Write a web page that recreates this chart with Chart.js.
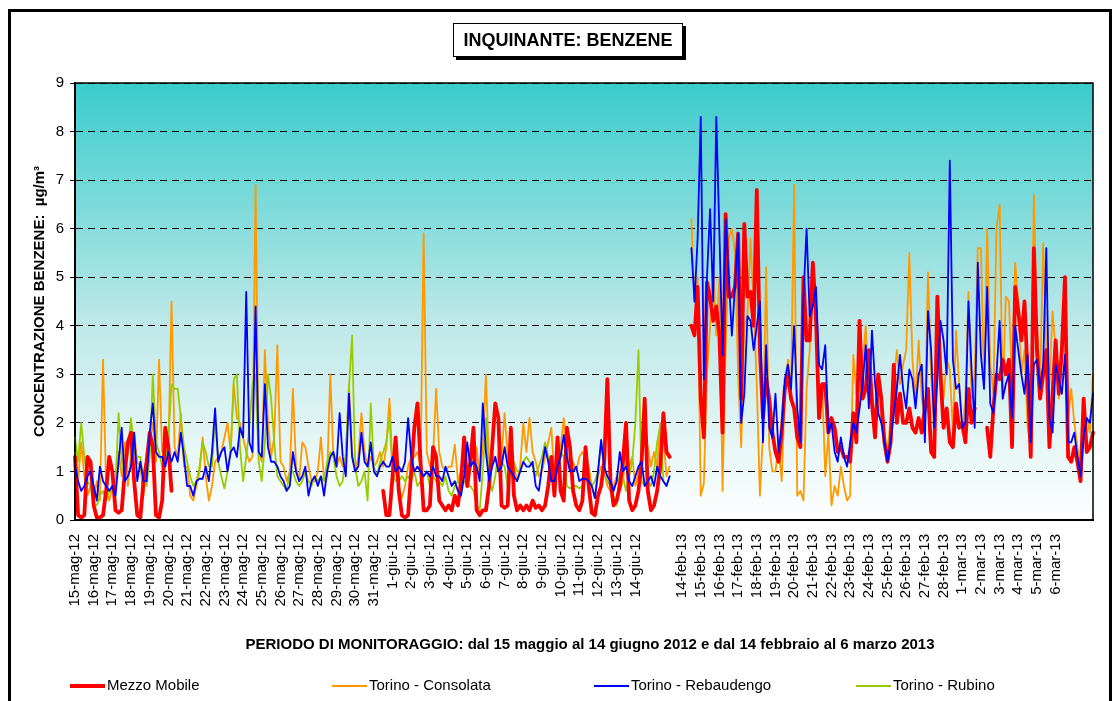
<!DOCTYPE html>
<html>
<head>
<meta charset="utf-8" />
<title>Inquinante: benzene</title>
<script src="https://cdn.jsdelivr.net/npm/chart.js"></script>
<style>
    body { margin: 0; background: #fff; }
    canvas { display: block; }
</style>
</head>
<body>
<canvas id="grafico" width="1114" height="701"></canvas>

<script>
    // etichette dell'asse x (una per giorno)
    const giorni2012 = [
        '15-mag-12', '16-mag-12', '17-mag-12', '18-mag-12', '19-mag-12', '20-mag-12', '21-mag-12',
        '22-mag-12', '23-mag-12', '24-mag-12', '25-mag-12', '26-mag-12', '27-mag-12', '28-mag-12',
        '29-mag-12', '30-mag-12', '31-mag-12', '1-giu-12', '2-giu-12', '3-giu-12', '4-giu-12',
        '5-giu-12', '6-giu-12', '7-giu-12', '8-giu-12', '9-giu-12', '10-giu-12', '11-giu-12',
        '12-giu-12', '13-giu-12', '14-giu-12'
    ];
    const giorni2013 = [
        '14-feb-13', '15-feb-13', '16-feb-13', '17-feb-13', '18-feb-13', '19-feb-13', '20-feb-13',
        '21-feb-13', '22-feb-13', '23-feb-13', '24-feb-13', '25-feb-13', '26-feb-13', '27-feb-13',
        '28-feb-13', '1-mar-13', '2-mar-13', '3-mar-13', '4-mar-13', '5-mar-13', '6-mar-13'
    ];

    // 6 letture al giorno (ogni 4 ore), µg/m³ - maggio/giugno 2012
    const mezzoMobile2012 = [
        1.3, 0.1, 0.05, 0.1, 1.3, 1.2,
        0.3, 0.05, 0.05, 0.1, 0.6, 1.3,
        1.0, 0.2, 0.15, 0.2, 1.0, 1.6,
        1.8, 0.8, 0.1, 0.05, 0.8, 1.2,
        1.8, 1.5, 0.1, 0.05, 0.4, 1.9,
        1.5, 0.6, null, null, null, null,
        null, null, null, null, null, null,
        null, null, null, null, null, null,
        null, null, null, null, null, null,
        null, null, null, null, null, null,
        null, null, null, null, null, null,
        null, null, null, null, null, null,
        null, null, null, null, null, null,
        null, null, null, null, null, null,
        null, null, null, null, null, null,
        null, null, null, null, null, null,
        null, null, null, 0.6, 0.1, 0.1,
        0.9, 1.7, 0.6, 0.1, 0.05, 0.1,
        1.0, 1.9, 2.4, 1.2, 0.2, 0.2,
        0.3, 1.5, 1.3, 0.4, 0.3, 0.2,
        0.3, 0.2, 0.5, 0.3, 0.8, 1.7,
        0.7, 1.2, 1.9, 0.2, 0.1, 0.2,
        0.2, 0.7, 1.5, 2.4, 2.1, 0.3,
        0.25, 0.3, 1.9, 0.5, 0.2, 0.3,
        0.2, 0.3, 0.2, 0.4, 0.25, 0.3,
        0.2, 0.3, 0.7, 1.3, 0.5, 1.7,
        0.6, 0.4, 1.9, 1.5, 0.6, 0.3,
        0.2, 0.4, 1.5, 0.7, 0.15, 0.1,
        0.5, 0.7, 1.2, 2.9, 0.8, 0.3,
        0.4, 0.7, 1.2, 2.0, 0.4, 0.2,
        0.3, 0.6, 1.2, 2.5, 0.6, 0.2,
        0.3, 0.6, 1.1, 2.2, 1.4, 1.3
    ];
    const consolata2012 = [
        1.4, 0.8, 1.6, 0.9, 0.5, 0.7,
        0.4, 0.8, 0.4, 3.3, 0.7, 0.4,
        0.7, 0.8, 1.4, 0.9, 1.6, 0.7,
        1.4, 1.8, 1.2, 1.1, 0.5, 1.1,
        1.6, 2.0, 1.2, 3.3, 1.4, 1.8,
        1.4, 4.5, 1.5, 1.3, 2.2, 1.1,
        1.1, 0.5, 0.4, 0.7, 1.0, 1.7,
        0.9, 0.4, 0.7, 1.2, 1.3, 1.4,
        1.7, 2.0, 1.4, 2.8, 2.1, 2.0,
        1.7, 1.4, 1.2, 1.3, 6.9, 1.4,
        1.2, 3.5, 2.0, 1.3, 1.7, 3.6,
        1.2, 1.1, 0.8, 1.0, 2.7, 1.1,
        0.8, 1.6, 1.5, 1.1, 0.8, 0.8,
        1.0, 1.7, 0.8, 0.9, 3.0, 1.3,
        1.1, 1.3, 1.1, 1.3, 2.8, 1.4,
        1.0, 1.3, 2.2, 1.4, 1.1, 1.3,
        1.1, 1.2, 1.4, 1.1, 1.5, 2.5,
        1.1, 1.0, 0.7, 0.45, 0.7, 1.1,
        1.3, 1.3, 1.4, 1.1, 5.9, 1.4,
        1.1, 1.3, 2.7, 1.4, 1.1, 1.0,
        1.1, 1.1, 1.55, 0.8, 1.0, 1.3,
        1.1, 1.1, 1.5, 1.5, 0.9, 1.5,
        3.0, 1.1, 1.4, 1.2, 1.2, 1.3,
        2.2, 1.3, 1.0, 1.1, 0.8, 1.1,
        2.0, 1.4, 2.1, 1.4, 1.2, 0.9,
        1.0, 1.3, 1.6, 1.9, 0.9, 1.2,
        1.5, 2.1, 1.4, 1.1, 1.2, 1.0,
        1.3, 1.4, 1.3, 1.1, 0.7, 0.45,
        0.9, 1.1, 1.0, 0.7, 0.6, 0.7,
        0.9, 0.6, 0.8, 1.4, 1.1, 1.3,
        0.7, 1.0, 1.3, 1.9, 1.5, 1.1,
        1.4, 1.1, 2.0, 1.7, 0.9, 1.1
    ];
    const rebaudengo2012 = [
        1.1, 0.8, 0.6, 0.7, 0.9, 1.0,
        0.7, 0.4, 1.1, 0.8, 0.7, 0.6,
        0.7, 0.5, 1.2, 1.9, 0.8, 0.9,
        1.1, 1.8, 0.8, 1.2, 0.8, 0.8,
        1.8, 2.4, 1.4, 1.3, 1.3, 1.1,
        1.4, 1.2, 1.4, 1.2, 1.8, 1.3,
        0.7, 0.7, 0.5, 0.8, 0.85, 0.85,
        1.1, 0.8, 1.4, 2.3, 1.2, 1.4,
        1.5, 1.0, 1.4, 1.5, 1.3, 1.9,
        1.7, 4.7, 1.6, 1.4, 4.4, 1.4,
        1.3, 2.8, 1.5, 1.2, 1.2, 1.1,
        0.9, 0.8, 0.6, 0.7, 1.4, 1.0,
        0.8, 0.9, 1.1, 0.5, 0.8, 0.9,
        0.7, 0.9, 0.5, 1.0, 1.3, 1.4,
        1.1, 2.2, 1.3, 0.9, 2.6, 1.3,
        1.0, 1.1, 1.8, 1.2, 1.1, 1.6,
        1.0, 0.9, 1.1, 1.2, 1.1, 1.1,
        1.3, 1.0, 1.1, 1.0, 1.2, 2.1,
        1.3, 1.0, 1.1, 1.0, 0.9, 1.0,
        0.9, 1.1, 0.9, 0.9, 0.8, 1.1,
        0.9, 0.7, 0.8, 0.6, 0.5, 0.9,
        1.6, 1.1, 1.2, 1.1, 0.8, 2.4,
        1.4, 0.8, 1.1, 1.3, 1.0, 1.1,
        1.5, 1.1, 1.0, 0.9, 0.8, 1.0,
        1.2, 1.1, 1.1, 1.2, 0.7, 0.6,
        1.1, 1.5, 1.2, 0.8, 0.8, 1.1,
        1.3, 1.75, 1.3, 1.0, 1.0, 1.1,
        0.8, 0.85, 0.85, 0.8, 0.7, 0.45,
        1.0, 1.65, 1.1, 0.9, 0.8, 0.6,
        0.8, 1.4, 1.0, 1.1, 0.8, 0.7,
        0.9, 1.1, 1.2, 0.7, 0.8, 0.9,
        0.7, 1.1, 0.9, 0.8, 0.7, 0.9
    ];
    const rubino2012 = [
        1.7, 1.2, 2.0, 1.3, 0.8, 0.7,
        0.3, 0.3, 0.5, 0.6, 0.4, 0.6,
        0.6, 0.7, 2.2, 1.2, 0.9, 1.4,
        2.1, 1.4, 1.3, 1.3, 0.8, 0.7,
        1.3, 3.0, 1.6, 1.4, 1.1, 1.2,
        1.7, 2.8, 2.7, 2.7, 2.1, 1.5,
        1.2, 0.9, 0.7, 0.8, 1.1, 1.6,
        1.4, 1.1, 1.1, 2.07, 1.2, 0.9,
        0.65, 1.0, 1.4, 2.9, 3.0, 1.5,
        0.8, 1.3, 1.9, 2.8, 3.0, 1.2,
        0.8, 1.6, 3.0, 2.5, 1.6, 0.9,
        0.8, 0.7, 0.6, 1.0, 1.0, 0.8,
        0.7, 0.8, 1.0, 0.8, 0.7, 0.9,
        0.8, 0.9, 0.8, 1.2, 1.4, 1.3,
        0.9, 0.7, 0.8, 1.4, 2.7, 3.8,
        1.1, 0.7, 0.8, 1.0, 0.4, 2.4,
        1.1, 0.9, 1.2, 1.4, 1.6, 2.1,
        1.0, 0.8, 0.8, 0.9, 0.8, 0.9,
        0.8, 1.0, 0.7, 0.8, 0.9, 1.0,
        0.7, 0.9, 0.8, 0.8, 0.7, 0.9,
        0.6, 0.5, 0.7, 0.8, 0.7, 0.8,
        0.7, 0.7, 0.6, 0.3, 0.2, 1.0,
        2.1, 0.8, 0.6, 0.9, 1.4, 1.2,
        1.1, 0.7, 1.0, 1.2, 1.0, 1.0,
        1.2, 1.3, 1.2, 1.1, 0.9, 1.1,
        1.3, 1.6, 1.3, 0.9, 0.9, 1.2,
        1.4, 1.3, 0.7, 0.65, 0.7, 0.7,
        0.65, 0.7, 0.85, 0.8, 0.7, 0.8,
        1.0, 1.55, 1.1, 0.8, 0.7, 0.5,
        0.3, 1.0, 0.9, 0.6, 0.9, 1.2,
        2.0, 3.5, 0.8, 0.7, 0.8, 0.7,
        1.0, 1.6, 1.95, 0.8, 0.7, 0.9
    ];

    // febbraio/marzo 2013 (Torino - Rubino senza dati)
    const mezzoMobile2013 = [
        4.0, 3.8, 4.8, 2.5, 1.7, 4.9,
        4.6, 4.1, 4.4, 3.8, 1.8, 6.3,
        4.6, 4.6, 4.8, 5.9, 2.5, 6.1,
        4.6, 4.7, 4.0, 6.8, 3.5, 2.1,
        2.9, 2.5, 1.8, 1.4, 1.2, 1.8,
        2.7, 3.0, 2.5, 2.3, 1.7, 1.5,
        5.0, 3.7, 3.7, 5.3, 4.2, 2.1,
        2.8, 2.8, 1.8, 2.1, 1.9, 1.4,
        1.5, 1.3, 1.3, 1.2, 2.2, 1.6,
        4.1, 2.5, 2.7, 3.5, 2.4, 1.7,
        3.0, 2.5, 1.6, 1.2, 1.6, 3.2,
        2.0, 2.6, 2.0, 2.0, 2.3, 1.9,
        1.8, 2.1, 1.8, 2.3, 2.7, 1.4,
        1.3, 4.6, 3.0, 1.9, 2.3, 1.6,
        1.5, 2.4, 1.9, 2.0, 1.6, 2.7,
        2.0, 2.3, null, null, null, 1.9,
        1.3, 2.3, 3.0, 2.9, 3.3, 3.0,
        3.3, 1.5, 4.8, 4.3, 3.7, 4.5,
        3.0, 1.3, 5.6, 3.5, 2.5, 3.0,
        3.5, 1.5, 2.6, 3.7, 2.6, 3.5,
        5.0, 1.3, 1.2, 1.5, 1.2, 0.8,
        2.5, 1.4, 1.5, 1.8
    ];
    const consolata2013 = [
        6.2, 4.5, 5.0, 0.5, 0.75, 3.0,
        4.0, 5.3, 3.8, 5.0, 0.6, 3.5,
        5.8, 6.0, 5.5, 3.0, 1.5, 4.0,
        4.2, 5.8, 4.4, 2.8, 0.5, 1.8,
        5.2, 1.5, 1.0, 1.0, 1.5, 0.8,
        2.6, 3.3, 2.7, 6.9, 0.5, 0.6,
        0.4, 2.7, 3.5, 5.0, 4.0, 2.5,
        2.8, 0.9, 1.8, 0.3, 0.7, 0.5,
        1.1, 0.7, 0.4, 0.5, 3.4, 2.6,
        2.3, 3.2, 4.0, 2.5, 2.8, 1.7,
        2.5, 2.1, 1.8, 1.4, 2.1, 2.8,
        3.5, 2.8, 3.2, 3.5, 5.5, 3.3,
        2.5, 3.7, 2.5, 2.1, 5.1, 3.0,
        1.8, 3.2, 3.2, 2.5, 3.3, 3.1,
        1.8, 3.9, 2.8, 1.8, 2.5, 4.7,
        2.5, 3.0, 5.6, 5.6, 2.8, 6.0,
        3.2, 2.6, 6.0, 6.5, 2.5, 4.6,
        4.5, 2.8, 5.3, 4.5, 3.0, 3.5,
        1.9, 1.5, 6.7, 4.0, 2.8, 5.7,
        3.5, 2.8, 4.3, 3.5, 2.5, 3.6,
        4.0, 2.1, 2.7, 2.0, 1.5, 1.1,
        1.8, 2.1, 1.8, 3.0
    ];
    const rebaudengo2013 = [
        5.6, 4.5, 5.8, 8.3, 2.9, 5.0,
        6.4, 4.5, 8.3, 5.9, 3.4, 6.2,
        5.0, 3.8, 4.8, 5.9, 2.0, 2.6,
        4.2, 4.1, 3.5, 4.0, 4.5, 1.6,
        3.6, 1.9, 1.7, 2.6, 1.4, 1.9,
        2.9, 3.2, 2.7, 4.0, 2.3, 1.6,
        4.6, 6.0, 4.2, 4.4, 4.8, 3.2,
        3.1, 3.6, 1.8, 2.0, 1.4, 1.2,
        1.7, 1.3, 1.1, 1.6, 2.0, 1.8,
        2.3, 2.8, 3.6, 2.3, 3.9, 2.8,
        2.2, 2.0, 1.6, 1.2, 1.6, 2.2,
        2.7, 3.4, 2.7, 2.3, 3.1, 2.9,
        2.3, 3.0, 3.2, 1.6, 4.3, 3.5,
        1.9, 2.9, 4.1, 3.7, 3.0, 7.4,
        3.3, 2.7, 2.8, 1.9, 2.0, 4.5,
        3.1, 1.9, 5.3, 3.4, 2.7, 4.8,
        2.4, 2.2, 3.0, 4.1, 2.5, 2.8,
        3.0, 2.1, 4.0, 3.5, 3.0, 2.6,
        3.4, 1.6, 3.2, 3.3, 2.7, 3.2,
        5.6, 2.1, 1.8, 3.2, 2.9, 2.6,
        3.4, 1.6, 1.6, 1.8, 1.3, 0.9,
        1.7, 2.1, 2.0, 2.6
    ];
    const rubino2013 = [];

    const LETTURE_GIORNO = 6;
    const PAUSA = 6;                 // letture vuote tra i due periodi
    const PERIODO2 = mezzoMobile2013.length;
    const INIZIO_ETICHETTE_2013 = mezzoMobile2012.length + PAUSA - 3;

    function serie(p1, p2) {
        const vuoto = n => new Array(n).fill(null);
        return [...p1, ...vuoto(PAUSA), ...(p2.length ? p2 : vuoto(PERIODO2))];
    }

    const totale = mezzoMobile2012.length + PAUSA + PERIODO2;
    const etichette = new Array(totale).fill('');
    giorni2012.forEach((g, i) => etichette[i * LETTURE_GIORNO] = g);
    giorni2013.forEach((g, i) => etichette[INIZIO_ETICHETTE_2013 + i * LETTURE_GIORNO] = g);

    const FONT = '"Liberation Sans", Arial, sans-serif';

    const cornice = {
        id: 'cornice',
        beforeDraw(chart) {
            const ctx = chart.ctx;
            const a = chart.chartArea;
            ctx.save();
            ctx.fillStyle = '#fff';
            ctx.fillRect(0, 0, chart.width, chart.height);
            const g = ctx.createLinearGradient(0, a.top, 0, a.bottom);
            g.addColorStop(0, 'rgb(58,204,204)');
            g.addColorStop(0.55, 'rgb(190,232,232)');
            g.addColorStop(1, '#ffffff');
            ctx.fillStyle = g;
            ctx.fillRect(a.left, a.top, a.right - a.left, a.bottom - a.top);
            ctx.restore();
        },
        afterDraw(chart) {
            const ctx = chart.ctx;
            const a = chart.chartArea;
            ctx.save();

            // bordo area grafico
            ctx.strokeStyle = '#000';
            ctx.lineWidth = 1.5;
            ctx.strokeRect(a.left, a.top, a.right - a.left, a.bottom - a.top);

            // cornice esterna
            ctx.lineWidth = 3;
            ctx.strokeRect(9.5, 10.5, 1101, 730);

            // titolo con ombra
            ctx.fillStyle = '#000';
            ctx.fillRect(456, 26, 230, 34);
            ctx.fillStyle = '#fff';
            ctx.fillRect(453, 23, 230, 34);
            ctx.lineWidth = 1;
            ctx.strokeRect(453.5, 23.5, 229, 33);
            ctx.fillStyle = '#000';
            ctx.font = 'bold 18px ' + FONT;
            ctx.textAlign = 'center';
            ctx.textBaseline = 'middle';
            ctx.fillText('INQUINANTE: BENZENE', 568, 41);

            // titolo asse y
            ctx.save();
            ctx.translate(40, (a.top + a.bottom) / 2);
            ctx.rotate(-Math.PI / 2);
            ctx.font = 'bold 15px ' + FONT;
            ctx.fillText('CONCENTRAZIONE BENZENE:  µg/m³', 0, 0);
            ctx.restore();

            // titolo asse x
            ctx.font = 'bold 15px ' + FONT;
            ctx.fillText('PERIODO DI MONITORAGGIO: dal 15 maggio al 14 giugno 2012 e dal 14 febbraio al 6 marzo 2013', 590, 645);

            // legenda
            ctx.font = '15px ' + FONT;
            ctx.textAlign = 'left';
            chart.data.datasets.forEach((ds, i) => {
                const x = 70 + i * 262;
                const y = 686;
                ctx.strokeStyle = ds.borderColor;
                ctx.lineWidth = i === 0 ? 4 : 2;
                ctx.beginPath();
                ctx.moveTo(x, y);
                ctx.lineTo(x + 35, y);
                ctx.stroke();
                ctx.fillStyle = '#000';
                ctx.fillText(ds.label, x + 37, y);
            });

            ctx.restore();
        }
    };

    const linea = {
        pointRadius: 0,
        tension: 0,
        spanGaps: false,
        borderJoinStyle: 'round',
        borderCapStyle: 'round'
    };

    new Chart(document.getElementById('grafico'), {
        type: 'line',
        data: {
            labels: etichette,
            datasets: [{
                ...linea,
                label: 'Mezzo Mobile',
                data: serie(mezzoMobile2012, mezzoMobile2013),
                borderColor: '#ff0000',
                borderWidth: 3.8,
                order: 1
            }, {
                ...linea,
                label: 'Torino - Consolata',
                data: serie(consolata2012, consolata2013),
                borderColor: '#ff9900',
                borderWidth: 1.8,
                order: 3
            }, {
                ...linea,
                label: 'Torino - Rebaudengo',
                data: serie(rebaudengo2012, rebaudengo2013),
                borderColor: '#0000ff',
                borderWidth: 1.8,
                order: 0
            }, {
                ...linea,
                label: 'Torino - Rubino',
                data: serie(rubino2012, rubino2013),
                borderColor: '#99cc00',
                borderWidth: 1.8,
                order: 2
            }]
        },
        options: {
            responsive: false,
            devicePixelRatio: 1,
            animation: false,
            events: [],
            layout: {
                padding: { left: 0, top: 83, right: 21, bottom: 61 }
            },
            plugins: {
                legend: { display: false },
                tooltip: { enabled: false }
            },
            scales: {
                x: {
                    offset: false,
                    grid: { display: false },
                    border: { display: true, color: '#000', width: 2 },
                    ticks: {
                        autoSkip: false,
                        maxRotation: 90,
                        minRotation: 90,
                        padding: 6,
                        color: '#000',
                        font: { family: FONT, size: 15 }
                    },
                    afterFit(scale) {
                        scale.height = 120;
                        scale.paddingLeft = 0;
                        scale.paddingRight = 0;
                    }
                },
                y: {
                    min: 0,
                    max: 9,
                    ticks: {
                        stepSize: 1,
                        padding: 6,
                        color: '#000',
                        font: { family: FONT, size: 15 }
                    },
                    grid: {
                        color: '#000',
                        lineWidth: 1,
                        tickLength: 5,
                        tickColor: '#000',
                        tickBorderDash: []
                    },
                    border: { display: true, color: '#000', width: 2, dash: [7, 5] },
                    afterFit(scale) {
                        scale.width = 75;
                        scale.paddingTop = 0;
                        scale.paddingBottom = 0;
                    }
                }
            }
        },
        plugins: [cornice]
    });
</script>
</body>
</html>
